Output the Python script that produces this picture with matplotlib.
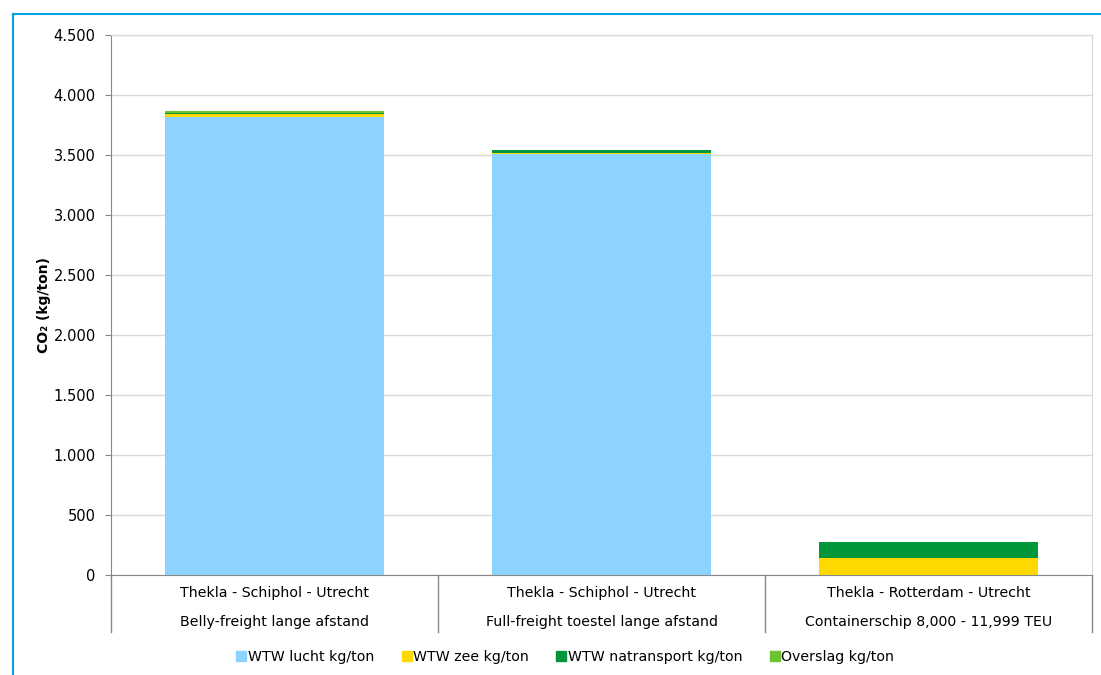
import matplotlib.pyplot as plt
import matplotlib.transforms as mtransforms
from matplotlib.lines import Line2D
from matplotlib.ticker import FuncFormatter

# data (kg CO2 per ton)
routes = ['Thekla - Schiphol - Utrecht', 'Thekla - Schiphol - Utrecht', 'Thekla - Rotterdam - Utrecht']
modes = ['Belly-freight lange afstand', 'Full-freight toestel lange afstand', 'Containerschip 8,000 - 11,999 TEU']
lucht = [3817, 3505, 0]
zee = [28, 12, 144]
natransport = [7, 25, 133]
overslag = [15, 0, 0]

series = [
    ('WTW lucht kg/ton', lucht, '#8DD3FF'),
    ('WTW zee kg/ton', zee, '#FFD800'),
    ('WTW natransport kg/ton', natransport, '#009639'),
    ('Overslag kg/ton', overslag, '#6CC330'),
]

plt.rcParams['font.family'] = 'DejaVu Sans'

W, H = 1101, 675
fig = plt.figure(figsize=(W / 100, H / 100), dpi=100)
ax = fig.add_axes([111 / W, 1 - 575 / H, (1092 - 111) / W, 540 / H])

x = list(range(len(routes)))
bottom = [0] * len(x)
handles = []
for name, vals, col in series:
    ax.bar(x, vals, width=0.67, bottom=bottom, color=col, zorder=2)
    bottom = [b + v for b, v in zip(bottom, vals)]
    handles.append(Line2D([], [], marker='s', linestyle='none', markersize=7,
                          markerfacecolor=col, markeredgecolor=col, label=name))

ax.set_xlim(-0.5, 2.5)
ax.set_ylim(0, 4500)
ax.set_yticks(range(0, 4501, 500))
ax.yaxis.set_major_formatter(FuncFormatter(lambda v, p: f'{int(v):,}'.replace(',', '.')))
ax.tick_params(axis='y', length=4, color='#888888', labelsize=10.5, pad=7)
ax.set_xticks([])
ax.grid(axis='y', color='#D9D9D9', linewidth=1, zorder=0)

for s in ['left', 'bottom']:
    ax.spines[s].set_color('#888888')
for s in ['top', 'right']:
    ax.spines[s].set_color('#D9D9D9')

# two-level category labels
trans = mtransforms.blended_transform_factory(ax.transData, ax.transAxes)
for i in x:
    ax.text(i, (575 - 593) / 540, routes[i], transform=trans, ha='center', va='center', fontsize=10.2)
    ax.text(i, (575 - 622) / 540, modes[i], transform=trans, ha='center', va='center', fontsize=10.2)
for sep in [-0.5, 0.5, 1.5, 2.5]:
    ax.plot([sep, sep], [0, (575 - 632) / 540], transform=trans, color='#888888',
            linewidth=1, clip_on=False)

ax.text(-0.068, 0.5, 'CO₂ (kg/ton)', transform=ax.transAxes, rotation=90,
        ha='center', va='center', fontsize=10, fontweight='bold')

fig.legend(handles=handles, loc='center', bbox_to_anchor=(565 / W, 1 - 657 / H), ncol=4,
           frameon=False, fontsize=10.2, handletextpad=0.05, columnspacing=1.9,
           handlelength=0.8)

# outer frame
fig.add_artist(Line2D([13 / W, 13 / W], [0, 1 - 14 / H], color='#00A3E0', linewidth=1.5))
fig.add_artist(Line2D([13 / W, 1], [1 - 14 / H, 1 - 14 / H], color='#00A3E0', linewidth=1.5))

fig.savefig('out.png', dpi=100)
